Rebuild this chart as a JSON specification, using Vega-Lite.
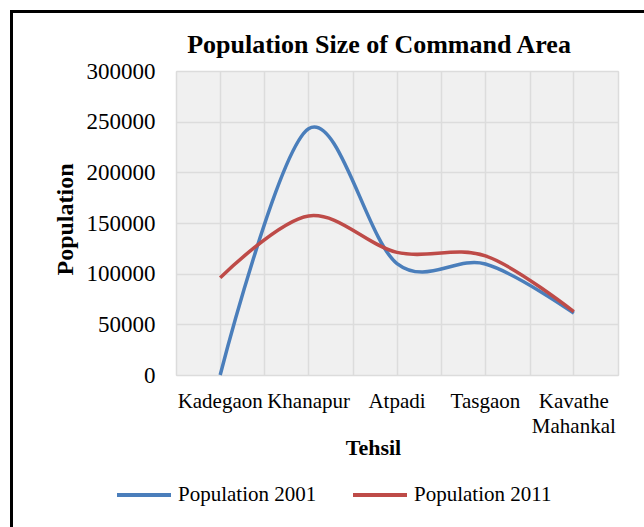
{
  "$schema": "https://vega.github.io/schema/vega-lite/v6.json",
  "padding": {"left": 10, "top": 10, "right": 0, "bottom": 0},
  "background": "white",
  "bounds": "flush",
  "spacing": 0,
  "config": {
    "font": "Liberation Serif",
    "view": {"stroke": null},
    "axis": {
      "labelColor": "black",
      "titleColor": "black",
      "labelFont": "Liberation Serif",
      "titleFont": "Liberation Serif",
      "gridColor": "#dcdcdc",
      "gridWidth": 1.5
    }
  },
  "datasets": {
    "pop": [
      {"tehsil": "Kadegaon", "series": "Population 2001", "population": 0},
      {"tehsil": "Khanapur", "series": "Population 2001", "population": 243000},
      {"tehsil": "Atpadi", "series": "Population 2001", "population": 110000},
      {"tehsil": "Tasgaon", "series": "Population 2001", "population": 109500},
      {"tehsil": "Kavathe Mahankal", "series": "Population 2001", "population": 61000},
      {"tehsil": "Kadegaon", "series": "Population 2011", "population": 96000},
      {"tehsil": "Khanapur", "series": "Population 2011", "population": 157000},
      {"tehsil": "Atpadi", "series": "Population 2011", "population": 121000},
      {"tehsil": "Tasgaon", "series": "Population 2011", "population": 117500},
      {"tehsil": "Kavathe Mahankal", "series": "Population 2011", "population": 62500}
    ],
    "blank": []
  },
  "hconcat": [
    {
      "width": 3,
      "height": 517,
      "data": {"name": "blank"},
      "mark": "rect",
      "encoding": {},
      "view": {"fill": "black", "stroke": null}
    },
    {
      "bounds": "flush",
      "spacing": 58,
      "vconcat": [
        {
          "width": 631,
          "height": 3,
          "data": {"name": "blank"},
          "mark": "rect",
          "encoding": {},
          "view": {"fill": "black", "stroke": null}
        },
        {
          "bounds": "flush",
          "spacing": 162,
          "hconcat": [
            {
              "width": 1,
              "height": 1,
              "data": {"name": "blank"},
              "mark": "rect",
              "encoding": {},
              "view": {"fill": null, "stroke": null}
            },
            {
              "width": 442,
              "height": 304,
              "data": {"name": "pop"},
              "view": {"fill": "#f0f0f0", "stroke": "#dcdcdc"},
              "title": {
                "text": "Population Size of Command Area",
                "font": "Liberation Serif",
                "fontSize": 26,
                "fontWeight": "bold",
                "color": "black",
                "anchor": "middle",
                "frame": "group",
                "dx": -18,
                "baseline": "alphabetic",
                "offset": -19
              },
              "layer": [
                {
                  "mark": {"type": "line", "opacity": 0},
                  "encoding": {
                    "x": {
                      "field": "tehsil",
                      "type": "nominal",
                      "sort": null,
                      "scale": {"type": "band", "paddingInner": 0, "paddingOuter": 0},
                      "axis": {
                        "orient": "top",
                        "grid": true,
                        "tickBand": "extent",
                        "labels": false,
                        "ticks": false,
                        "domain": false,
                        "title": null
                      }
                    }
                  }
                },
                {
                  "mark": {"type": "line", "interpolate": "cardinal", "tension": 0, "strokeWidth": 3.5},
                  "encoding": {
                    "x": {
                      "field": "tehsil",
                      "type": "nominal",
                      "sort": null,
                      "bandPosition": 0.5,
                      "axis": {
                        "orient": "bottom",
                        "grid": true,
                        "domain": false,
                        "ticks": false,
                        "tickSize": 0,
                        "labelAngle": 0,
                        "labelFontSize": 21,
                        "labelPadding": 15,
                        "labelBaseline": "top",
                        "labelLineHeight": 25,
                        "labelExpr": "datum.label == 'Kavathe Mahankal' ? ['Kavathe', 'Mahankal'] : datum.label",
                        "title": "Tehsil",
                        "titleFontSize": 22,
                        "titleFontWeight": "bold",
                        "titleX": 197,
                        "titleY": 79,
                        "titleBaseline": "alphabetic"
                      }
                    },
                    "y": {
                      "field": "population",
                      "type": "quantitative",
                      "scale": {"domain": [0, 300000]},
                      "axis": {
                        "values": [0, 50000, 100000, 150000, 200000, 250000, 300000],
                        "format": "d",
                        "grid": true,
                        "domain": false,
                        "ticks": false,
                        "tickSize": 0,
                        "labelFontSize": 23,
                        "labelPadding": 21,
                        "title": "Population",
                        "titleFontSize": 24,
                        "titleFontWeight": "bold",
                        "titleX": -104,
                        "titleY": 148,
                        "titleBaseline": "alphabetic"
                      }
                    },
                    "color": {
                      "field": "series",
                      "type": "nominal",
                      "scale": {"domain": ["Population 2001", "Population 2011"], "range": ["#4a7ebb", "#be4b48"]},
                      "legend": {
                        "orient": "none",
                        "legendX": 105,
                        "legendY": 456,
                        "direction": "horizontal",
                        "title": null,
                        "symbolType": "stroke",
                        "symbolSize": 2916,
                        "symbolStrokeWidth": 4,
                        "labelFont": "Liberation Serif",
                        "labelFontSize": 21,
                        "labelColor": "black",
                        "labelOffset": 5,
                        "labelLimit": 0,
                        "columnPadding": 28
                      }
                    }
                  }
                }
              ],
              "resolve": {"axis": {"x": "independent"}}
            }
          ]
        }
      ]
    }
  ]
}
